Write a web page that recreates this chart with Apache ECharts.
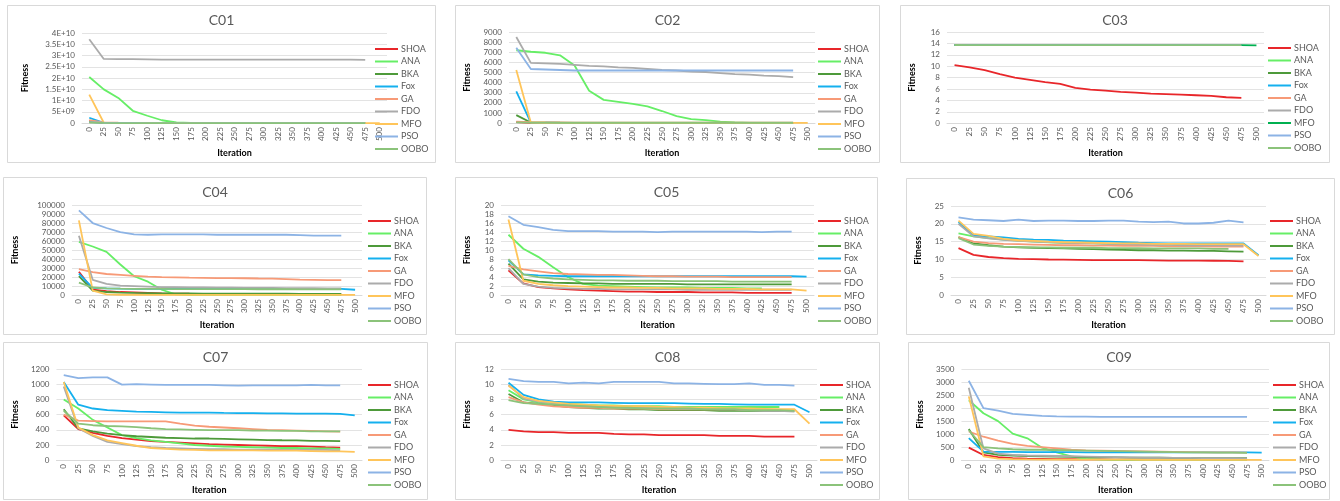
<!DOCTYPE html>
<html><head><meta charset="utf-8">
<script src="https://cdn.jsdelivr.net/npm/echarts@6/dist/echarts.min.js"></script>
<style>
html,body{margin:0;padding:0;background:#fff;width:1340px;height:501px;overflow:hidden}
.p{position:absolute}
</style></head><body>
<script>
// ---------- DATA ----------
const iterations = ['0','25','50','75','100','125','150','175','200','225','250','275','300','325','350','375','400','425','450','475','500'];
const seriesNames = ['SHOA','ANA','BKA','Fox','GA','FDO','MFO','PSO','OOBO'];
const panelTitles = ['C01','C02','C03','C04','C05','C06','C07','C08','C09'];

// each panel: rows in order SHOA, ANA, BKA, Fox, GA, FDO, MFO, PSO, OOBO
const C01 = [
  [1.0e9,1.5e8,8e7,5e7,4e7,3e7,2e7,2e7,1e7,1e7,1e7,1e7,1e7,1e7,1e7,1e7,1e7,1e7,1e7,1e7],
  [2.05e10,1.5e10,1.12e10,5.5e9,3.3e9,1.3e9,3e8,8e7,3e7,2e7,1e7,1e7,1e7,1e7,1e7,1e7,1e7,1e7,1e7,1e7],
  [6e8,1e8,6e7,4e7,3e7,2e7,2e7,1e7,1e7,1e7,1e7,1e7,1e7,1e7,1e7,1e7,1e7,1e7,1e7,1e7],
  [2.4e9,1.5e8,8e7,5e7,4e7,3e7,2e7,2e7,1e7,1e7,1e7,1e7,1e7,1e7,1e7,1e7,1e7,1e7,1e7,1e7],
  [1.3e9,3e8,2e8,1.5e8,1.2e8,1e8,9e7,8e7,7e7,6e7,5e7,5e7,4e7,4e7,3e7,3e7,3e7,2e7,2e7,2e7],
  [3.72e10,2.85e10,2.84e10,2.84e10,2.83e10,2.82e10,2.82e10,2.82e10,2.82e10,2.82e10,2.82e10,2.82e10,2.82e10,2.82e10,2.82e10,2.82e10,2.82e10,2.82e10,2.82e10,2.81e10],
  [1.27e10,2e8,1e8,8e7,6e7,5e7,4e7,3e7,3e7,2e7,2e7,2e7,2e7,1e7,1e7,1e7,1e7,1e7,1e7,1e7,1e7],
  [5e8,2e8,1e8,8e7,6e7,5e7,4e7,3e7,3e7,2e7,2e7,2e7,2e7,2e7,2e7,2e7,2e7,2e7,2e7,2e7],
  [3e8,1e8,6e7,4e7,3e7,2e7,2e7,1e7,1e7,1e7,1e7,1e7,1e7,1e7,1e7,1e7,1e7,1e7,1e7,1e7]
];
const C02 = [
  [100,30,25,20,20,20,20,20,20,20,20,20,20,20,20,20,20,20,20,20],
  [7200,7050,6950,6700,5700,3200,2300,2100,1900,1650,1200,700,400,300,150,80,30,20,10,10],
  [800,60,50,40,35,30,30,30,30,30,30,30,30,30,30,30,30,30,30,30],
  [3150,60,40,35,30,30,30,30,30,30,30,30,30,30,30,30,30,30,30,30],
  [150,90,80,70,60,60,50,50,50,50,50,50,50,50,50,50,50,50,50,50],
  [8500,5950,5900,5850,5750,5650,5600,5500,5450,5350,5250,5200,5100,5050,4950,4850,4800,4700,4650,4550],
  [5250,50,40,35,30,30,30,30,30,30,30,30,30,30,30,30,30,30,30,30,30],
  [7450,5350,5300,5250,5200,5200,5200,5200,5200,5200,5200,5200,5200,5200,5200,5200,5200,5200,5200,5200],
  [80,50,45,40,40,40,40,40,40,40,40,40,40,40,40,40,40,40,40,40]
];
const C03 = [
  [10.2,9.8,9.3,8.6,8.0,7.6,7.2,6.9,6.2,5.9,5.7,5.5,5.35,5.2,5.1,5.0,4.9,4.8,4.55,4.45],
  [13.75,13.72,13.7,13.7,13.7,13.7,13.7,13.7,13.7,13.7,13.7,13.7,13.7,13.7,13.7,13.7,13.7,13.7,13.7,13.7],
  [13.72,13.7,13.7,13.7,13.7,13.7,13.7,13.7,13.7,13.7,13.7,13.7,13.7,13.7,13.7,13.7,13.7,13.7,13.7,13.7],
  [13.72,13.7,13.7,13.7,13.7,13.7,13.7,13.7,13.7,13.7,13.7,13.7,13.7,13.7,13.7,13.7,13.7,13.7,13.7,13.7],
  [13.74,13.72,13.71,13.7,13.7,13.7,13.7,13.7,13.7,13.7,13.7,13.7,13.7,13.7,13.7,13.7,13.7,13.7,13.7,13.7],
  [13.74,13.72,13.71,13.7,13.7,13.7,13.7,13.7,13.7,13.7,13.7,13.7,13.7,13.7,13.7,13.7,13.7,13.7,13.7,13.7],
  [13.72,13.7,13.7,13.7,13.7,13.7,13.7,13.7,13.7,13.7,13.7,13.7,13.7,13.7,13.7,13.7,13.7,13.7,13.7,13.7,13.65],
  [13.73,13.71,13.7,13.7,13.7,13.7,13.7,13.7,13.7,13.7,13.7,13.7,13.7,13.7,13.7,13.7,13.7,13.7,13.7,13.7],
  [13.72,13.7,13.7,13.7,13.7,13.7,13.7,13.7,13.7,13.7,13.7,13.7,13.7,13.7,13.7,13.7,13.7,13.7,13.7,13.7]
];
const C04 = [
  [26000,6000,4500,3500,3000,2500,2000,1800,1600,1500,1400,1300,1250,1200,1150,1100,1100,1050,1000,1000],
  [59000,54000,48000,34000,21000,15000,6000,1000,500,400,350,300,300,300,300,300,300,300,300,300],
  [21000,5000,3500,2800,2500,2300,2100,2000,1900,1800,1800,1700,1700,1600,1600,1600,1500,1500,1500,1500],
  [24000,8000,7500,7200,7000,7000,7000,7000,7000,7000,7000,7000,7000,7000,7000,7000,7000,7000,7000,7000,6000],
  [29000,25500,23500,22500,21500,20500,20000,19800,19500,19300,19000,19000,18800,18500,18300,17800,17200,17000,16800,16800],
  [66000,17000,12500,10500,10000,9500,9000,8800,8600,8500,8400,8300,8200,8100,8000,7900,7800,7700,7600,7500],
  [83000,5000,1000,500,400,350,300,300,300,300,300,300,300,300,300,300,300,300,300,300,300],
  [94000,80000,74500,70000,67500,67000,67500,67500,67500,67500,67000,67000,67000,67000,67000,67000,66500,66000,66000,66000],
  [14000,8500,7500,7200,7000,6900,6900,6800,6800,6800,6700,6700,6700,6600,6600,6600,6500,6500,6500,6500]
];
const C05 = [
  [5.5,2.6,1.8,1.5,1.3,1.1,1.0,0.9,0.8,0.8,0.7,0.7,0.7,0.6,0.6,0.6,0.5,0.5,0.5,0.5],
  [13.4,10.3,8.5,6.2,4.0,2.5,2.1,2.0,1.9,1.8,1.7,1.7,1.7,1.6,1.6,1.6,1.5,1.5],
  [7.0,3.5,3.0,2.8,2.7,2.6,2.6,2.5,2.5,2.5,2.5,2.5,2.4,2.4,2.4,2.4,2.4,2.4,2.4,2.4],
  [7.7,4.6,4.4,4.3,4.2,4.2,4.2,4.2,4.2,4.2,4.2,4.2,4.2,4.2,4.2,4.2,4.2,4.2,4.2,4.2,4.1],
  [6.5,5.7,5.3,4.9,4.7,4.6,4.5,4.5,4.4,4.3,4.2,4.2,4.1,4.1,4.1,4.0,4.0,4.0,4.0,4.0],
  [6.0,2.5,1.9,1.6,1.5,1.4,1.4,1.3,1.3,1.3,1.3,1.3,1.2,1.2,1.2,1.2,1.2,1.2,1.2,1.2],
  [16.8,3.2,2.5,2.2,2.0,1.9,1.8,1.7,1.7,1.6,1.6,1.5,1.5,1.5,1.4,1.4,1.4,1.3,1.3,1.3,1.0],
  [17.5,15.6,15.1,14.5,14.2,14.2,14.2,14.1,14.1,14.1,14.0,14.1,14.1,14.1,14.1,14.1,14.1,14.0,14.1,14.1],
  [8.0,4.6,4.0,3.7,3.5,3.4,3.3,3.3,3.2,3.2,3.2,3.1,3.1,3.1,3.1,3.0,3.0,3.0,3.0,3.0]
];
const C06 = [
  [13.2,11.3,10.7,10.4,10.2,10.1,10.0,9.95,9.9,9.85,9.8,9.8,9.8,9.75,9.7,9.7,9.7,9.65,9.6,9.5],
  [17.3,16.5,16.0,15.6,15.3,15.0,14.8,14.7,14.6,14.5,14.4,14.3,14.3,14.2,14.2,14.1,14.1,14.0,14.0],
  [16.3,14.5,14.0,13.6,13.4,13.3,13.2,13.1,13.0,12.9,12.8,12.7,12.6,12.6,12.5,12.5,12.4,12.4,12.3,12.2],
  [20.5,16.8,16.5,16.2,15.8,15.6,15.5,15.3,15.2,15.1,15.0,14.9,14.7,14.6,14.5,14.5,14.5,14.5,14.5,14.5,11.2],
  [16.3,15.0,14.6,14.4,14.3,14.2,14.1,14.0,14.0,13.9,13.9,13.8,13.8,13.8,13.7,13.7,13.7,13.6,13.6,13.6],
  [20.0,16.5,15.9,15.5,15.2,15.0,14.9,14.7,14.6,14.5,14.4,14.3,14.2,14.1,14.1,14.0,14.0,14.0,13.9,13.9],
  [20.9,17.2,16.6,15.8,15.4,15.2,15.0,14.9,14.8,14.7,14.6,14.5,14.5,14.4,14.4,14.4,14.3,14.3,14.3,14.3,11.0],
  [21.8,21.2,21.0,20.8,21.2,20.8,20.9,20.9,20.8,20.8,20.9,20.9,20.6,20.5,20.6,20.1,20.1,20.3,20.9,20.4],
  [16.0,14.2,13.8,13.6,13.5,13.4,13.4,13.3,13.3,13.3,13.2,13.2,13.2,13.1,13.1,13.1,13.1,13.0,13.0]
];
const C07 = [
  [590,410,360,320,290,270,250,240,230,220,210,205,200,195,190,185,185,178,170,165],
  [800,680,530,430,330,290,260,240,220,200,190,180,175,170,165,160,160,155,155,150],
  [670,420,380,350,330,315,305,295,290,285,285,280,275,270,265,262,260,255,255,252],
  [1030,730,680,660,650,640,635,630,625,625,625,622,620,620,615,615,612,612,612,610,590],
  [600,520,515,510,510,510,510,510,480,455,440,430,420,410,400,395,390,385,380,375],
  [970,420,320,240,210,185,170,160,155,150,145,145,140,140,140,135,135,135,135,130],
  [1030,430,330,260,225,190,160,150,140,135,130,130,128,128,125,125,125,120,115,115,110],
  [1120,1080,1090,1090,995,1000,995,990,990,990,990,985,980,985,985,985,985,990,985,985],
  [650,480,460,450,445,435,420,410,405,400,395,395,395,390,390,385,385,380,380,380]
];
const C08 = [
  [4.0,3.8,3.7,3.7,3.6,3.6,3.6,3.45,3.4,3.4,3.3,3.3,3.3,3.3,3.2,3.2,3.2,3.1,3.1,3.1],
  [9.2,8.0,7.6,7.5,7.4,7.3,7.2,7.2,7.1,7.1,7.1,7.0,7.0,7.0,7.0,7.0,7.0,7.0,7.0],
  [8.7,7.6,7.4,7.2,7.0,6.9,6.8,6.8,6.7,6.7,6.6,6.6,6.6,6.6,6.5,6.5,6.5,6.5,6.5,6.5],
  [10.2,8.6,8.0,7.7,7.6,7.6,7.6,7.55,7.5,7.5,7.5,7.5,7.45,7.4,7.4,7.35,7.3,7.3,7.3,7.3,6.3],
  [8.3,7.6,7.3,7.1,7.0,6.9,6.9,6.8,6.8,6.8,6.7,6.7,6.7,6.7,6.7,6.7,6.6,6.6,6.6,6.6],
  [9.9,8.1,7.7,7.5,7.3,7.2,7.1,7.0,6.9,6.9,6.9,6.8,6.8,6.8,6.7,6.7,6.6,6.5,6.5,6.4],
  [9.8,8.3,7.8,7.6,7.4,7.3,7.2,7.15,7.1,7.1,7.0,7.0,6.9,6.9,6.85,6.8,6.8,6.75,6.7,6.7,4.8],
  [10.7,10.4,10.3,10.3,10.1,10.2,10.1,10.3,10.3,10.3,10.3,10.1,10.1,10.05,10.0,10.0,10.1,9.9,9.9,9.8],
  [7.9,7.5,7.4,7.3,7.2,7.1,7.0,6.9,6.9,6.8,6.8,6.8,6.8,6.7,6.7,6.7,6.6,6.6,6.6,6.5]
];
const C09 = [
  [480,200,120,80,60,50,40,35,30,30,25,25,20,20,20,20,20,20,20,20],
  [2300,1800,1500,1020,840,480,300,150,50,20,10,10,10,10,10,10,10,10,10,10],
  [1200,300,200,180,160,150,140,130,120,110,110,100,100,95,90,85,80,80,80,80],
  [850,330,320,320,310,310,310,310,300,300,300,300,300,300,300,300,300,300,300,300,290],
  [1100,900,750,630,550,500,450,400,380,370,360,350,340,330,320,310,300,300,300,290],
  [2780,450,250,200,180,170,160,150,140,130,120,110,100,95,90,85,80,80,75,70],
  [2450,150,60,40,30,25,20,20,20,20,20,20,15,15,15,15,15,15,15,15,10],
  [3050,2000,1900,1780,1740,1700,1680,1670,1670,1660,1660,1660,1660,1660,1660,1660,1660,1660,1660,1660],
  [1150,500,450,420,400,400,390,380,370,360,350,340,330,320,310,300,300,290,290,280]
];
const panelData = [C01,C02,C03,C04,C05,C06,C07,C08,C09];
const yMaxes = [4e10, 9000, 16, 100000, 20, 25, 1200, 12, 3500];
const ySteps = [5e9, 1000, 2, 10000, 2, 5, 200, 2, 500];

// ---------- STYLE / LAYOUT ----------
const baseColors = ['#E8262A','#66EE66','#4E9A3A','#14B0EE','#F79A77','#ABABAB','#FFC55A','#8CB3E5','#8BC37A'];
// [boxX, boxY, boxW, boxH, plotL, plotR, plotT, plotB, legendX, legendFirstY, fitnessGap]
const layout = [
  [7,5,429,158, 82,387,33,131, 370,44, 52],
  [455,5,425,158, 498,815,32,130, 813,44, 37],
  [900,5,430,158, 946,1264,32,130, 1263,43, 30],
  [3,177,424,158, 65,362,205,303, 363,216, 52],
  [455,177,423,158, 498,814,205,303, 813,216, 29],
  [906,178,429,157, 948,1266,206,302, 1265,216, 28],
  [3,342,425,158, 47,362,369,467, 363,380, 34],
  [455,342,425,158, 499,817,369,467, 815,380, 29],
  [908,342,422,158, 952,1269,369,467, 1268,380, 34]
];
const FONT = 'Lato, "Liberation Sans", sans-serif';

function expFmt(v){
  if (v === 0) return '0';
  const parts = v.toExponential().split('e');
  const e = parseInt(parts[1],10);
  const es = (e<0?'-':'+') + String(Math.abs(e)).padStart(2,'0');
  return parts[0] + 'E' + es;
}
function plainFmt(v){ return String(v); }

panelData.forEach((rows, i) => {
  const [bx,by,bw,bh,pl,pr,pt,pb,lx,ly,fg] = layout[i];
  const div = document.createElement('div');
  div.className = 'p';
  div.style.left = bx+'px'; div.style.top = by+'px';
  div.style.width = bw+'px'; div.style.height = bh+'px';
  document.body.appendChild(div);
  const chart = echarts.init(div, null, {renderer:'canvas'});
  const colors = baseColors.slice();
  if (i === 2) colors[6] = '#00B050';
  const series = seriesNames.map((n, k) => ({
    name: n, type: 'line', data: rows[k], showSymbol: false, symbol: 'none',
    lineStyle: {width: 1.8, color: colors[k]}, itemStyle: {color: colors[k]},
    animation: false, z: 2
  }));
  chart.setOption({
    animation: false,
    color: colors,
    graphic: [{type:'rect', shape:{x:0.5,y:0.5,width:bw-1,height:bh-1}, style:{fill:'#fff', stroke:'#D9D9D9', lineWidth:1}, z:-10, silent:true}],
    title: {text: panelTitles[i], left: 'center', top: 3,
      textStyle: {fontFamily: FONT, fontSize: 14, fontWeight: 'normal', color: '#595959'}},
    legend: {orient: 'vertical', left: lx - bx, top: ly - by - 5, data: seriesNames,
      icon: 'rect', itemWidth: 23, itemHeight: 2, itemGap: 2.5,
      textStyle: {fontFamily: FONT, fontSize: 9, color: '#595959', lineHeight: 10, padding:[0,0,0,-2]}},
    grid: {left: pl - bx, right: bx + bw - pr, top: pt - by, bottom: by + bh - pb, containLabel: false},
    xAxis: {type: 'category', data: iterations, boundaryGap: true,
      name: 'Iteration', nameLocation: 'middle', nameGap: 22,
      nameTextStyle: {fontFamily: FONT, fontSize: 9, fontWeight: 'bold', color: '#000'},
      axisLine: {lineStyle: {color: '#D9D9D9'}}, axisTick: {show: false},
      axisLabel: {rotate: 90, interval: 0, fontFamily: FONT, fontSize: 8, color: '#595959', margin: 4}},
    yAxis: {type: 'value', min: 0, max: yMaxes[i], interval: ySteps[i],
      name: 'Fitness', nameLocation: 'middle', nameGap: fg, nameRotate: 90,
      nameTextStyle: {fontFamily: FONT, fontSize: 9, fontWeight: 'bold', color: '#000'},
      axisLine: {show: false}, axisTick: {show: false},
      splitLine: {lineStyle: {color: '#E3E3E3'}},
      axisLabel: {fontFamily: FONT, fontSize: 8, color: '#595959', margin: 7,
        formatter: i === 0 ? expFmt : plainFmt}},
    series: series
  });
});
</script>
</body></html>
